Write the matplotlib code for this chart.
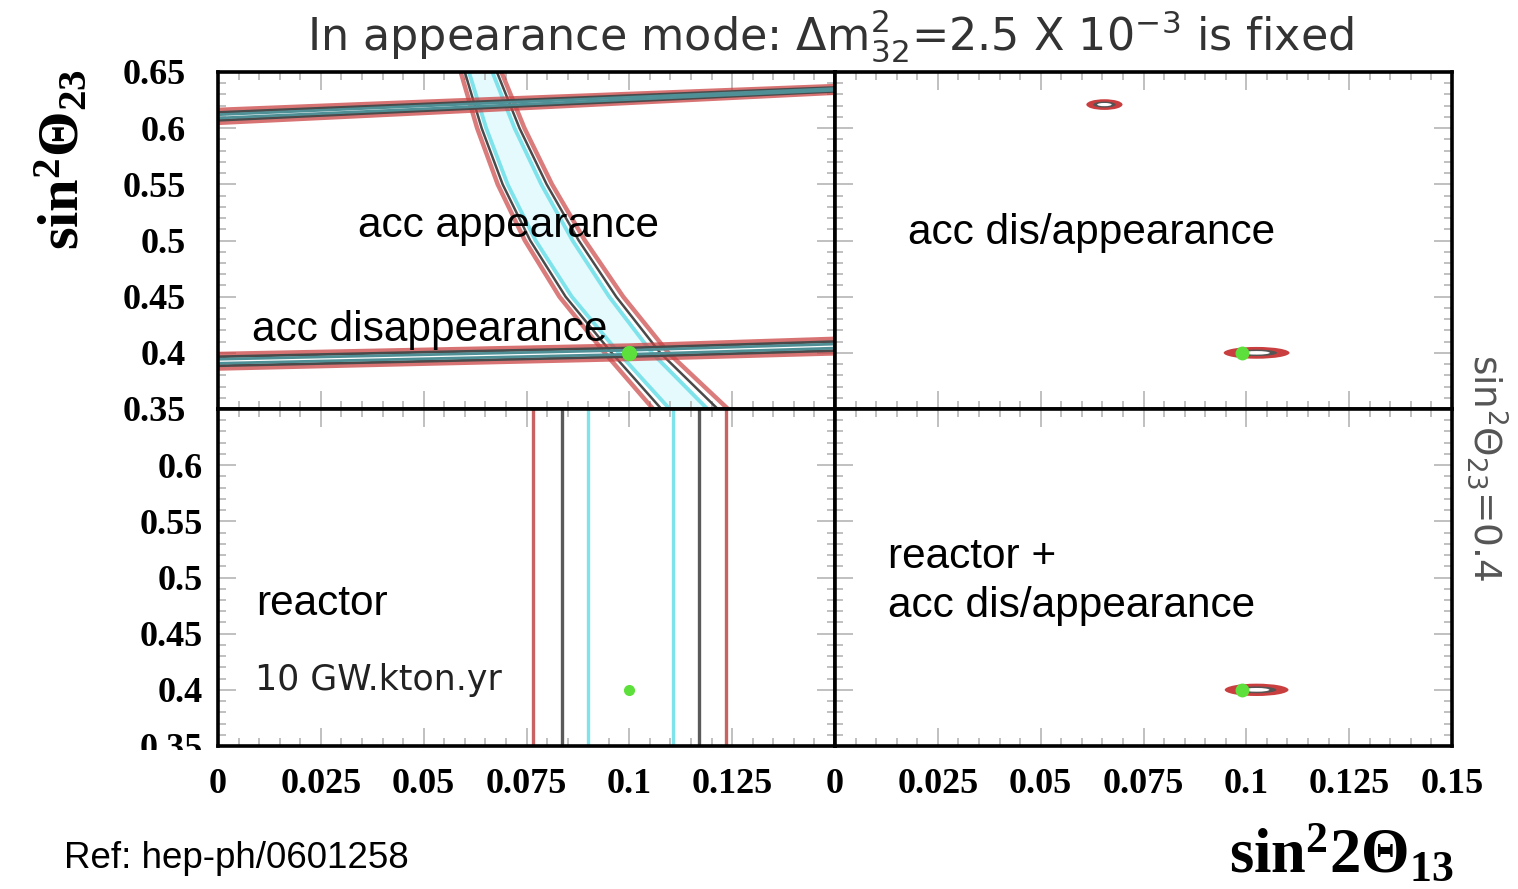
import matplotlib
matplotlib.use("Agg")
import matplotlib.pyplot as plt
from matplotlib.patches import Ellipse
from matplotlib.ticker import MultipleLocator, FuncFormatter
from matplotlib.transforms import Bbox, TransformedBbox

plt.rcParams['font.family'] = 'Liberation Serif'
plt.rcParams['font.weight'] = 'bold'
plt.rcParams['mathtext.fontset'] = 'custom'
plt.rcParams['mathtext.rm'] = 'DejaVu Sans:weight=normal'
plt.rcParams['mathtext.it'] = 'DejaVu Sans:italic:weight=normal'
plt.rcParams['mathtext.bf'] = 'Liberation Serif:bold'

# --- acc appearance band (top-left), x = sin^2 2theta13 at each sin^2 theta23
app_y = [0.35, 0.40, 0.45, 0.50, 0.55, 0.60, 0.65]
app_red_l = [0.1058, 0.0940, 0.0830, 0.0746, 0.0680, 0.0630, 0.0590]
app_gray_l = [0.1078, 0.0957, 0.0845, 0.0759, 0.0692, 0.0641, 0.0600]
app_cyan_l = [0.1098, 0.0974, 0.0860, 0.0772, 0.0704, 0.0652, 0.0610]
app_cyan_r = [0.1190, 0.1055, 0.0951, 0.0862, 0.0786, 0.0721, 0.0667]
app_gray_r = [0.1215, 0.1075, 0.0968, 0.0877, 0.0799, 0.0733, 0.0678]
app_red_r = [0.1240, 0.1095, 0.0985, 0.0892, 0.0812, 0.0745, 0.0689]

# --- acc disappearance bands (top-left), y at each x
dis_x = [0.0, 0.05, 0.10, 0.15]
dis_lo_red = ([0.3990, 0.4027, 0.4065, 0.4125], [0.3860, 0.3903, 0.3945, 0.3995])
dis_lo_gray = ([0.3965, 0.4005, 0.4043, 0.4100], [0.3885, 0.3925, 0.3967, 0.4020])
dis_lo_cyan = ([0.3943, 0.3983, 0.4023, 0.4078], [0.3907, 0.3947, 0.3987, 0.4042])
dis_hi_red = ([0.6163, 0.6235, 0.6305, 0.6375], [0.6047, 0.6135, 0.6225, 0.6315])
dis_hi_gray = ([0.6140, 0.6215, 0.6290, 0.6362], [0.6070, 0.6155, 0.6240, 0.6328])
dis_hi_cyan = ([0.6120, 0.6198, 0.6275, 0.6352], [0.6090, 0.6172, 0.6255, 0.6338])

# --- reactor (bottom-left): allowed sin^2 2theta13 limits
reactor_red = [0.0767, 0.1236]
reactor_gray = [0.0836, 0.1170]
reactor_cyan = [0.0899, 0.1107]

# --- combined fits (right panels): ellipses centre / size
tr_ell_x = [0.0655, 0.1025]
tr_ell_y = [0.6210, 0.4000]
tr_ell_w = [0.0088, 0.0160]
tr_ell_h = [0.0095, 0.0105]
br_ell_x = [0.1025]
br_ell_y = [0.4000]
br_ell_w = [0.0155]
br_ell_h = [0.0110]

# true point
true_x = 0.1
true_y = 0.4

RED = '#cc4444'
GRAY = '#4a4a4a'
CYAN = '#7fe3ec'
GREEN = '#5ee03c'

fig = plt.figure(figsize=(15.18, 8.89), dpi=100)
axes = fig.subplots(2, 2, gridspec_kw=dict(left=218/1518, right=1452/1518,
                                           bottom=1-746/889, top=1-72/889,
                                           wspace=0, hspace=0))
ax_tl, ax_tr = axes[0]
ax_bl, ax_br = axes[1]


def fmt_hide(hidden):
    def f(v, pos):
        if any(abs(v - h) < 1e-6 for h in hidden):
            return ''
        return f'{v:g}'
    return FuncFormatter(f)


for ax in axes.flat:
    ax.set_xlim(0, 0.15)
    ax.set_ylim(0.35, 0.65)
    ax.xaxis.set_major_locator(MultipleLocator(0.025))
    ax.xaxis.set_minor_locator(MultipleLocator(0.005))
    ax.yaxis.set_major_locator(MultipleLocator(0.05))
    ax.yaxis.set_minor_locator(MultipleLocator(0.01))
    ax.tick_params(which='both', direction='in', top=True, right=True,
                   color='#b5b5b5', width=1.2, labelsize=26)
    ax.tick_params(which='major', length=13)
    ax.tick_params(which='minor', length=6)
    for s in ax.spines.values():
        s.set_linewidth(2.6)
        s.set_color('black')

ax_tl.tick_params(labelbottom=False)
ax_tl.tick_params(axis='y', pad=23)
ax_tl.yaxis.set_major_formatter(fmt_hide([]))
ax_tr.tick_params(labelbottom=False, labelleft=False)
ax_bl.yaxis.set_major_formatter(fmt_hide([0.65]))
ax_bl.xaxis.set_major_formatter(fmt_hide([0.15]))
ax_bl.tick_params(axis='y', pad=11)
ax_bl.tick_params(axis='x', pad=16)
ax_br.tick_params(labelleft=False)
ax_br.xaxis.set_major_formatter(fmt_hide([]))
ax_br.tick_params(axis='x', pad=16)

# ---- top-left: acc appearance + disappearance
ax_tl.fill_betweenx(app_y, app_cyan_l, app_cyan_r, color='#e4fafd', lw=0)
for xs, c, lw, a in [(app_red_l, RED, 3.2, 0.7), (app_red_r, RED, 3.2, 0.7),
                     (app_gray_l, GRAY, 1.8, 1), (app_gray_r, GRAY, 1.8, 1),
                     (app_cyan_l, CYAN, 2.8, 1), (app_cyan_r, CYAN, 2.8, 1)]:
    ax_tl.plot(xs, app_y, color=c, lw=lw, alpha=a)

for band in (dis_lo_red, dis_hi_red):
    for ys in band:
        ax_tl.plot(dis_x, ys, color=RED, lw=3.2, alpha=0.75)
for band in (dis_lo_gray, dis_hi_gray):
    for ys in band:
        ax_tl.plot(dis_x, ys, color=GRAY, lw=2.0)
for band in (dis_lo_cyan, dis_hi_cyan):
    for ys in band:
        ax_tl.plot(dis_x, ys, color='#4f8f96', lw=2.0)

ax_tl.plot(true_x, true_y, 'o', color=GREEN, ms=11, mec='none', zorder=5)

txt = dict(family='Liberation Sans', weight='normal', fontsize=30.5, color='black')
ax_tl.text(0.034, 0.5027, 'acc appearance', **txt)
ax_tl.text(0.0083, 0.4107, 'acc disappearance', **txt)

# ---- bottom-left: reactor
for xs, c in [(reactor_red, '#c96262'), (reactor_gray, '#5a5a5a'), (reactor_cyan, CYAN)]:
    for x in xs:
        ax_bl.axvline(x, color=c, lw=2.4)
ax_bl.plot(true_x, true_y, 'o', color=GREEN, ms=8, mec='none', zorder=5)
ax_bl.text(0.0093, 0.467, 'reactor', **txt)
ax_bl.text(0.009, 0.3996, '10 GW.kton.yr', family='DejaVu Sans', weight='normal',
           fontsize=25, color='#222222')


# ---- right panels: combined fits
def draw_ellipses(ax, xs, ys, ws, hs):
    for x, y, w, h in zip(xs, ys, ws, hs):
        ax.add_patch(Ellipse((x, y), w, h, color='#c42a2a', alpha=0.9, lw=0))
        ax.add_patch(Ellipse((x, y), w * 0.62, h * 0.55, color='#555555', lw=0))
        ax.add_patch(Ellipse((x, y), w * 0.4, h * 0.3, color='white', lw=0))


draw_ellipses(ax_tr, tr_ell_x, tr_ell_y, tr_ell_w, tr_ell_h)
draw_ellipses(ax_br, br_ell_x, br_ell_y, br_ell_w, br_ell_h)
for ax in (ax_tr, ax_br):
    ax.plot(true_x - 0.001, true_y, 'o', color=GREEN, ms=10, mec='none', zorder=5)

ax_tr.text(0.0178, 0.4973, 'acc dis/appearance', **txt)
ax_br.text(0.0129, 0.5089, 'reactor +', **txt)
ax_br.text(0.0129, 0.4645, 'acc dis/appearance', **txt)

# clip the lowest y tick label of bottom-left panel (half hidden)
fig.canvas.draw()
for t in ax_bl.yaxis.get_major_ticks():
    if abs(t.get_loc() - 0.35) < 1e-6:
        t.label1.set_clip_on(True)
        t.label1.set_clip_box(TransformedBbox(Bbox([[0, 1 - 750/889], [1, 1]]),
                                              fig.transFigure))

# ---- figure texts
fig.text(0.547, 1 - 36/889,
         r'In appearance mode: $\Delta\mathrm{m}^{2}_{32}$=2.5 X 10$^{-3}$ is fixed',
         family='DejaVu Sans', weight='normal', fontsize=32, color='#333333',
         ha='center', va='center')
fig.text(62/1518, 1 - 160/889, r'$\mathbf{sin^{2}\Theta_{23}}$', fontsize=42,
         rotation=90, ha='center', va='center')
fig.text(1454/1518, 1 - 872/889, r'$\mathbf{sin^{2}2\Theta_{13}}$', fontsize=45,
         ha='right', va='baseline')
fig.text(1487/1518, 1 - 468/889, r'sin$^{2}\Theta_{23}$=0.4', family='DejaVu Sans',
         weight='normal', fontsize=27, color='#555555', rotation=270,
         ha='center', va='center')
fig.text(64/1518, 1 - 868/889, 'Ref: hep-ph/0601258', family='Liberation Sans',
         weight='normal', fontsize=26.5, color='black', va='baseline')

fig.savefig('out.png', dpi=100)
